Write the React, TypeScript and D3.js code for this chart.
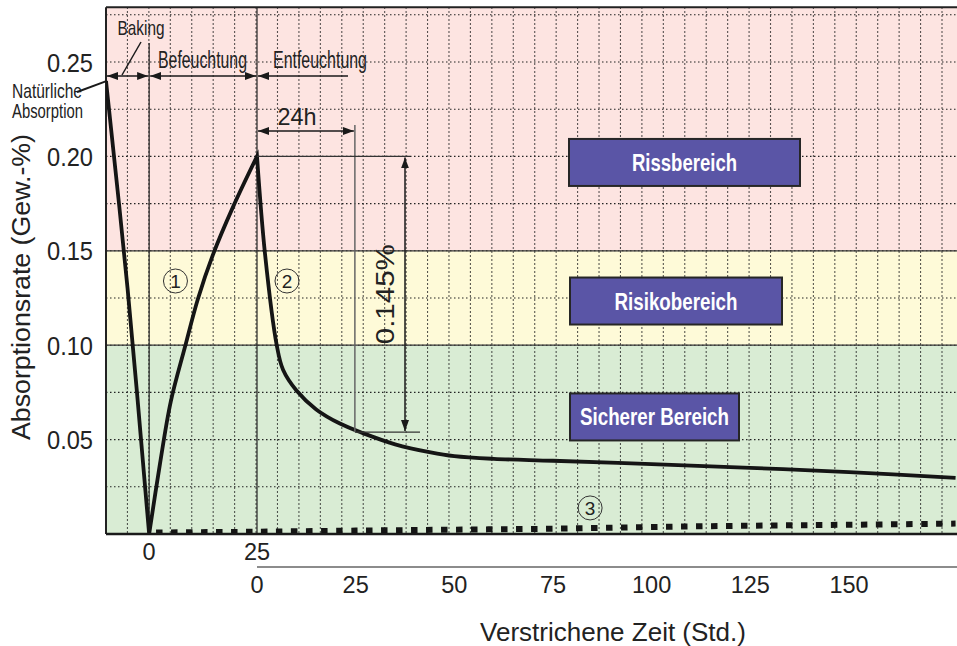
import { useEffect, useRef } from 'react';
import * as d3 from 'd3';

const W = 957;
const H = 646;
const FONT = '"Liberation Sans", Arial, Helvetica, sans-serif';

// natural absorption -> baking (upper time axis, h)
const bakingHours = [-10, -5, 0];
const bakingRate = [0.24, 0.13, 0];

// (1) humidification (upper time axis, h)
const wetHours = [0, 2.5, 5, 8.3, 11.3, 14.8, 19.4, 25];
const wetRate = [0, 0.037, 0.07, 0.099, 0.1245, 0.148, 0.173, 0.2];

// (2) dehumidification (lower time axis, h)
const dryHours = [0, 2, 5, 6.6, 10, 15, 21, 27, 35, 44, 50, 60, 75, 100, 125, 150, 177];
const dryRate = [0.2, 0.149, 0.1, 0.087, 0.076, 0.066, 0.0585, 0.0533, 0.0475, 0.0432, 0.0412, 0.0398, 0.0388, 0.037, 0.035, 0.0328, 0.0297];

// (3) dotted curve
const refWetHours = [1.6, 25];
const refWetRate = [0.0008, 0.0012];
const refDryHours = [0, 25, 50, 75, 100, 125, 150, 177];
const refDryRate = [0.0012, 0.0018, 0.0023, 0.0028, 0.0037, 0.0044, 0.0049, 0.0055];

const zoneNames = ['Rissbereich', 'Risikobereich', 'Sicherer Bereich'];
const zoneLower = [0.15, 0.1, 0];
const zoneUpper = [0.279, 0.15, 0.1];
const ZONE_COLORS = ['#fde4e1', '#fefad8', '#d9ecd4'];

const yTicks = [0.05, 0.1, 0.15, 0.2, 0.25];
const yGrid = [0.025, 0.05, 0.075, 0.1, 0.125, 0.15, 0.175, 0.2, 0.225, 0.25, 0.275];
const wetTicks = [0, 25];
const dryTicks = [0, 25, 50, 75, 100, 125, 150];

// drop after 24 h of dehumidification
const dropFrom = 0.2;
const dropTo = 0.054;
const dropHours = 24.8;

export default function App() {
  const svgRef = useRef<SVGSVGElement>(null);

  useEffect(() => {
    if (!svgRef.current) return;
    const svg = d3.select(svgRef.current);
    svg.selectAll('*').remove();

    const left = 106;
    const right = W;
    const y = d3.scaleLinear().domain([0, 0.25]).range([534, 62]);
    const top = y(0.279);
    const bottom = y(0);
    const xWet = d3.scaleLinear().domain([-10, 25]).range([106, 257]);
    const xDry = d3.scaleLinear().domain([0, 150]).range([257, 849]);
    const gridX = d3.scaleLinear().domain([0, 39]).range([106, 942]);

    const defs = svg.append('defs');
    defs.append('clipPath').attr('id', 'plot')
      .append('rect')
      .attr('x', left).attr('y', top)
      .attr('width', right - left).attr('height', bottom - top);
    defs.append('marker')
      .attr('id', 'arrow')
      .attr('viewBox', '0 0 11 8')
      .attr('refX', 11).attr('refY', 4)
      .attr('markerWidth', 11).attr('markerHeight', 8)
      .attr('markerUnits', 'userSpaceOnUse')
      .attr('orient', 'auto-start-reverse')
      .append('path').attr('d', 'M0,0L11,4L0,8Z').attr('fill', '#1a1a1a');

    // Zones
    const zones = zoneNames.map((name, i) => ({ name, lo: zoneLower[i], hi: zoneUpper[i], color: ZONE_COLORS[i] }));
    svg.append('g').selectAll('rect').data(zones).join('rect')
      .attr('x', left).attr('width', right - left)
      .attr('y', d => y(d.hi))
      .attr('height', d => y(d.lo) - y(d.hi))
      .attr('fill', d => d.color);

    // Dotted grid
    const grid = svg.append('g')
      .attr('stroke', '#222')
      .attr('stroke-width', 1.1)
      .attr('stroke-dasharray', '1.5,2.5');
    grid.selectAll('.gh').data(yGrid).join('line').attr('class', 'gh')
      .attr('x1', left).attr('x2', right)
      .attr('y1', d => y(d)).attr('y2', d => y(d));
    grid.selectAll('.gv').data(d3.range(1, 40)).join('line').attr('class', 'gv')
      .attr('x1', d => gridX(d)).attr('x2', d => gridX(d))
      .attr('y1', top).attr('y2', bottom);

    // Zone borders
    svg.append('g').selectAll('line').data([0.1, 0.15]).join('line')
      .attr('x1', left).attr('x2', right)
      .attr('y1', d => y(d)).attr('y2', d => y(d))
      .attr('stroke', '#333').attr('stroke-width', 1.2);

    // Phase dividers
    svg.append('line')
      .attr('x1', xWet(0)).attr('x2', xWet(0))
      .attr('y1', 43).attr('y2', bottom)
      .attr('stroke', '#222').attr('stroke-width', 1.2);
    svg.append('line')
      .attr('x1', xWet(25)).attr('x2', xWet(25))
      .attr('y1', top).attr('y2', bottom)
      .attr('stroke', '#222').attr('stroke-width', 1.2);

    // Frame
    svg.append('line').attr('x1', left).attr('x2', right).attr('y1', top).attr('y2', top)
      .attr('stroke', '#222').attr('stroke-width', 2);
    svg.append('line').attr('x1', left).attr('x2', left).attr('y1', top).attr('y2', bottom)
      .attr('stroke', '#222').attr('stroke-width', 2);

    // Zone labels
    const boxes = [
      { x: 569, w: 231, cy: y(0.1968) },
      { x: 570, w: 212, cy: y(0.1234) },
      { x: 570, w: 169, cy: y(0.062) },
    ];
    const boxLen = [105, 123, 149];
    const bg = svg.append('g');
    zones.forEach((z, i) => {
      const b = boxes[i];
      bg.append('rect')
        .attr('x', b.x).attr('y', b.cy - 23.5)
        .attr('width', b.w).attr('height', 47)
        .attr('fill', '#5a55a6').attr('stroke', '#262626').attr('stroke-width', 2);
      bg.append('text')
        .attr('x', b.x + b.w / 2).attr('y', b.cy + 8.5)
        .attr('text-anchor', 'middle')
        .attr('textLength', boxLen[i]).attr('lengthAdjust', 'spacingAndGlyphs')
        .style('font-family', FONT).style('font-size', '23px').style('font-weight', 'bold')
        .style('fill', '#fff')
        .text(z.name);
    });

    // Curves
    const curves = svg.append('g').attr('clip-path', 'url(#plot)');
    const line = d3.line<[number, number]>()
      .x(d => d[0]).y(d => d[1])
      .curve(d3.curveCatmullRom.alpha(0.5));
    const seg = (hours: number[], rate: number[], xs: d3.ScaleLinear<number, number>) =>
      hours.map((h, i) => [xs(h), y(rate[i])] as [number, number]);
    const joinPaths = (segs: [number, number][][]) =>
      segs.map((s, i) => {
        const d = line(s) || '';
        return i ? 'L' + d.slice(1) : d;
      }).join('');

    curves.append('path')
      .attr('d', joinPaths([
        seg(bakingHours, bakingRate, xWet),
        seg(wetHours, wetRate, xWet),
        seg(dryHours, dryRate, xDry),
      ]))
      .attr('fill', 'none')
      .attr('stroke', '#151515')
      .attr('stroke-width', 3.8)
      .attr('stroke-linejoin', 'miter')
      .attr('stroke-miterlimit', 10);

    curves.append('path')
      .attr('d', joinPaths([
        seg(refWetHours, refWetRate, xWet),
        seg(refDryHours, refDryRate, xDry),
      ]))
      .attr('fill', 'none')
      .attr('stroke', '#151515')
      .attr('stroke-width', 6)
      .attr('stroke-dasharray', '6.5,8.5');

    // Bottom axis line
    svg.append('line').attr('x1', left).attr('x2', right).attr('y1', bottom).attr('y2', bottom)
      .attr('stroke', '#1a1a1a').attr('stroke-width', 2.5);

    const text = (g: d3.Selection<any, unknown, null, undefined>, str: string, x: number, yy: number,
      size: number, anchor = 'middle', len?: number) => {
      const t = g.append('text')
        .attr('x', x).attr('y', yy)
        .attr('text-anchor', anchor)
        .style('font-family', FONT)
        .style('font-size', `${size}px`)
        .style('fill', '#222')
        .text(str);
      if (len) t.attr('textLength', len).attr('lengthAdjust', 'spacingAndGlyphs');
      return t;
    };

    // Y axis
    const yAxis = svg.append('g');
    yTicks.forEach(v => text(yAxis, d3.format('.2f')(v), 93, y(v) + 9.5, 26, 'end', 46));
    text(yAxis, 'Absorptionsrate (Gew.-%)', 0, 0, 26, 'middle', 306)
      .attr('transform', `translate(30,287) rotate(-90)`);

    // X axes
    const xAxis = svg.append('g');
    wetTicks.forEach(v => text(xAxis, String(v), xWet(v), 559.5, 23.5));
    xAxis.append('line')
      .attr('x1', xDry(0)).attr('x2', right).attr('y1', 567).attr('y2', 567)
      .attr('stroke', '#666').attr('stroke-width', 1.5);
    dryTicks.forEach(v => text(xAxis, String(v), xDry(v), 593, 23.5));
    text(xAxis, 'Verstrichene Zeit (Std.)', 613, 641, 26);

    // Phase annotations
    const ann = svg.append('g');
    const arrowY = 76;
    const arrow = (x1: number, y1: number, x2: number, y2: number, both = true, start = true) => {
      const l = ann.append('line')
        .attr('x1', x1).attr('y1', y1).attr('x2', x2).attr('y2', y2)
        .attr('stroke', '#1a1a1a').attr('stroke-width', 1.5);
      if (start) l.attr('marker-start', 'url(#arrow)');
      if (both) l.attr('marker-end', 'url(#arrow)');
      return l;
    };
    arrow(left + 1, arrowY, xWet(0) - 1, arrowY);
    arrow(xWet(0) + 1, arrowY, xWet(25) - 1, arrowY);
    arrow(xWet(25) + 1, arrowY, 348, arrowY, false);
    text(ann, 'Baking', 141, 35, 21, 'middle', 47);
    ann.append('line').attr('x1', 122).attr('y1', 75).attr('x2', 141).attr('y2', 42)
      .attr('stroke', '#1a1a1a').attr('stroke-width', 1.5);
    text(ann, 'Befeuchtung', 202.5, 68, 23, 'middle', 89);
    text(ann, 'Entfeuchtung', 320, 68, 23, 'middle', 94);
    text(ann, 'Natürliche', 12, 98, 21, 'start', 70);
    text(ann, 'Absorption', 12, 118, 21, 'start', 71);
    ann.append('line').attr('x1', 77).attr('y1', 92).attr('x2', xWet(-10) + 1).attr('y2', y(0.24))
      .attr('stroke', '#1a1a1a').attr('stroke-width', 2);

    // 24h / 0.145 % annotation
    const xDrop = xDry(dropHours);
    arrow(xDry(0) + 1, 131, xDrop - 1, 131);
    text(ann, '24h', 297, 125, 24, 'middle', 39);
    ann.append('line').attr('x1', xDrop).attr('x2', xDrop).attr('y1', 125).attr('y2', y(dropTo))
      .attr('stroke', '#666').attr('stroke-width', 1.5);
    ann.append('line').attr('x1', xDry(0)).attr('x2', 410).attr('y1', y(dropFrom)).attr('y2', y(dropFrom))
      .attr('stroke', '#333').attr('stroke-width', 1.2);
    ann.append('line').attr('x1', xDrop).attr('x2', 420).attr('y1', y(dropTo)).attr('y2', y(dropTo))
      .attr('stroke', '#333').attr('stroke-width', 1.2);
    arrow(405, y(dropFrom) + 1, 405, y(dropTo) - 1);
    text(ann, `${d3.format('.3f')(dropFrom - 0.055)}%`, 0, 0, 25, 'middle', 100)
      .attr('transform', `translate(394,${(y(dropFrom) + y(dropTo)) / 2}) rotate(-90)`);

    // Circled curve numbers
    const marks = [
      { n: '1', x: xWet(6.1), v: 0.134 },
      { n: '2', x: xDry(7.6), v: 0.134 },
      { n: '3', x: xDry(84.4), v: 0.0138 },
    ];
    marks.forEach(m => {
      ann.append('circle').attr('cx', m.x).attr('cy', y(m.v)).attr('r', 12)
        .attr('fill', 'none').attr('stroke', '#333').attr('stroke-width', 1);
      text(ann, m.n, m.x, y(m.v) + 7, 19);
    });
  }, []);

  return (
    <svg
      ref={svgRef}
      width={W}
      height={H}
      style={{ position: 'absolute', left: 0, top: 0, background: '#fff' }}
    />
  );
}
